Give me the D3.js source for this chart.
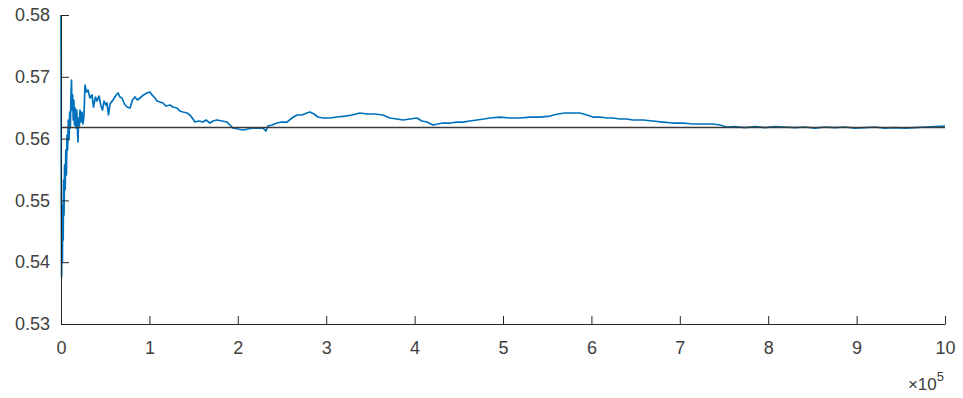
<!DOCTYPE html>
<html>
<head>
<meta charset="utf-8">
<script src="https://cdn.jsdelivr.net/npm/d3@7"></script>
<style>
  body { margin: 0; background: #fff; }
  svg { display: block; }
  .axis path, .axis line { stroke: #262626; }
  .axis text { fill: #404040; font-family: "Liberation Sans", Arial, sans-serif; font-size: 18px; }
</style>
</head>
<body>
<div id="chart"></div>
<script>
"use strict";

// running estimate vs. number of steps
var steps = [
    0, 340, 680, 1130, 1580, 2040, 2490, 2940, 3390, 4070,
    4750, 5430, 6110, 6790, 7470, 8260, 9050, 9840, 10520, 11310,
    11880, 12440, 13120, 13800, 14480, 15270, 16060, 16970, 17870, 18660,
    19230, 19910, 20700, 21490, 22620, 23750, 24880, 26010, 27140, 28840,
    30540, 32800, 35060, 36760, 39020, 40720, 42980, 45240, 46940, 48630,
    50900, 52030, 53720, 55420, 58810, 61640, 64470, 66730, 68990, 71820,
    74650, 78040, 80870, 83690, 86520, 89350, 93310, 97270, 100660, 102920,
    106310, 108580, 111970, 115360, 118760, 123280, 126670, 131200, 134590, 137980,
    142510, 145900, 149290, 151550, 156080, 160600, 164000, 168520, 171910, 176440,
    182090, 187750, 191140, 194530, 200190, 205840, 211500, 217150, 222810, 228460,
    231860, 234120, 238640, 244300, 249950, 255610, 261260, 266920, 272570, 278230,
    281620, 286150, 290670, 296320, 304240, 312160, 321200, 329120, 338170, 346090,
    355130, 364180, 372100, 380020, 386800, 394720, 402640, 408290, 413950, 420730,
    426390, 432040, 439960, 447880, 454660, 462580, 470500, 478410, 485200, 496510,
    507820, 519130, 530440, 541750, 553060, 562110, 570020, 577940, 586990, 594900,
    601690, 609610, 617530, 624310, 632230, 640150, 646930, 658240, 669550, 680860,
    692170, 703480, 714790, 726100, 737410, 745330, 753250, 762290, 773600, 784910,
    796220, 807530, 818840, 830150, 841460, 852770, 864080, 875390, 886700, 898010,
    909320, 920630, 931940, 943250, 954560, 965870, 977180, 988490, 1000000
];

var estimate = [
    0.5800, 0.54845, 0.53761, 0.54440, 0.54003, 0.54925, 0.54359, 0.55330, 0.54764, 0.55573,
    0.55168, 0.55815, 0.55411, 0.56058, 0.55815, 0.56301, 0.55977, 0.56430, 0.56171, 0.56706,
    0.56948, 0.56462, 0.56706, 0.56301, 0.56624, 0.56220, 0.56495, 0.56171, 0.56462, 0.56139,
    0.55945, 0.56333, 0.56204, 0.56462, 0.56268, 0.56430, 0.56236, 0.56382, 0.56867, 0.56754,
    0.56786, 0.56657, 0.56706, 0.56511, 0.56673, 0.56608, 0.56689, 0.56527, 0.56462, 0.56608,
    0.56543, 0.56576, 0.56382, 0.56560, 0.56624, 0.56689, 0.56738, 0.56673, 0.56657, 0.56560,
    0.56511, 0.56495, 0.56624, 0.56673, 0.56624, 0.56657, 0.56706, 0.56738, 0.56754, 0.56706,
    0.56657, 0.56608, 0.56592, 0.56576, 0.56527, 0.56543, 0.56511, 0.56495, 0.56446, 0.56430,
    0.56414, 0.56382, 0.56317, 0.56268, 0.56285, 0.56268, 0.56301, 0.56252, 0.56285, 0.56301,
    0.56285, 0.56268, 0.56220, 0.56171, 0.56155, 0.56139, 0.56155, 0.56171, 0.56171, 0.56171,
    0.56123, 0.56204, 0.56220, 0.56252, 0.56268, 0.56268, 0.56333, 0.56382, 0.56382, 0.56414,
    0.56430, 0.56398, 0.56349, 0.56333, 0.56333, 0.56349, 0.56365, 0.56382, 0.56414, 0.56398,
    0.56398, 0.56382, 0.56333, 0.56317, 0.56301, 0.56317, 0.56333, 0.56285, 0.56268, 0.56220,
    0.56236, 0.56252, 0.56252, 0.56268, 0.56268, 0.56285, 0.56301, 0.56317, 0.56333, 0.56349,
    0.56333, 0.56333, 0.56349, 0.56349, 0.56365, 0.56398, 0.56414, 0.56414, 0.56414, 0.56382,
    0.56349, 0.56349, 0.56333, 0.56333, 0.56317, 0.56317, 0.56301, 0.56301, 0.56285, 0.56268,
    0.56252, 0.56252, 0.56236, 0.56236, 0.56236, 0.56220, 0.56188, 0.56196, 0.56179, 0.56196,
    0.56179, 0.56196, 0.56188, 0.56179, 0.56188, 0.56171, 0.56188, 0.56179, 0.56188, 0.56171,
    0.56179, 0.56188, 0.56171, 0.56179, 0.56171, 0.56179, 0.56188, 0.56196, 0.56204
];

// true value drawn as the flat reference line
var trueValue = 0.5618;

var xTicks = [0, 1e5, 2e5, 3e5, 4e5, 5e5, 6e5, 7e5, 8e5, 9e5, 1e6];
var yTicks = [0.53, 0.54, 0.55, 0.56, 0.57, 0.58];

var createGraph = function createGraph() {
    var margin = {top: 15, right: 18, bottom: 74, left: 61};
    var fullWidth = 963, fullHeight = 398;
    var width = fullWidth - margin.left - margin.right;
    var height = fullHeight - margin.top - margin.bottom;

    var svg = d3.select('#chart').append('svg')
        .attr('width', fullWidth)
        .attr('height', fullHeight)
    .append('g')
        .attr('transform', 'translate(' + margin.left + ',' + margin.top + ')');

    var x = d3.scaleLinear()
        .domain([0, 1e6])
        .range([0, width]);

    var y = d3.scaleLinear()
        .domain([0.53, 0.58])
        .range([height, 0]);

    var line = d3.line()
        .x(function (d) { return x(d[0]); })
        .y(function (d) { return y(d[1]); });

    var pts = steps.map(function (s, i) { return [s, estimate[i]]; });

    svg.append('path')
        .datum(pts)
        .attr('fill', 'none')
        .attr('stroke', '#0072BD')
        .attr('stroke-width', 1.7)
        .attr('stroke-linejoin', 'round')
        .attr('d', line);

    svg.append('path')
        .datum([[0, trueValue], [1e6, trueValue]])
        .attr('fill', 'none')
        .attr('stroke', '#3a3a3a')
        .attr('stroke-width', 1.3)
        .attr('d', line);

    // MATLAB style: ticks point inward, no box
    var xAxis = d3.axisBottom(x)
        .tickValues(xTicks)
        .tickSizeInner(-8)
        .tickSizeOuter(0)
        .tickPadding(17)
        .tickFormat(function (d) { return d / 1e5; });

    var yAxis = d3.axisLeft(y)
        .tickValues(yTicks)
        .tickSizeInner(-8)
        .tickSizeOuter(0)
        .tickPadding(11)
        .tickFormat(d3.format('.2f'));

    svg.append('g')
        .attr('class', 'axis axis--x')
        .attr('transform', 'translate(0,' + height + ')')
        .call(xAxis);

    svg.append('g')
        .attr('class', 'axis axis--y')
        .call(yAxis);

    var expo = svg.append('text')
        .attr('x', width - 1)
        .attr('y', height + 66)
        .attr('text-anchor', 'end')
        .attr('fill', '#404040')
        .style('font-family', '"Liberation Sans", Arial, sans-serif')
        .style('font-size', '17px');
    expo.append('tspan').text('\u00d710');
    expo.append('tspan')
        .attr('dy', -9)
        .style('font-size', '13px')
        .text('5');
};

createGraph();
</script>
</body>
</html>
